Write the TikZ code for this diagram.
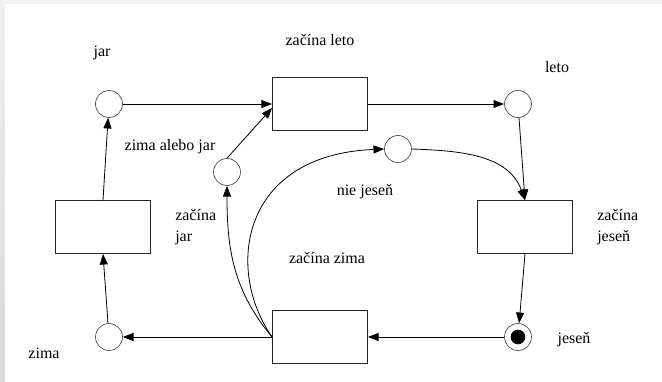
\documentclass[tikz,border=0pt]{standalone}
\usepackage{fontspec}
\setmainfont{Liberation Serif}
\newfontfamily\pismo{Liberation Serif}
\usetikzlibrary{arrows.meta}
\tikzset{
  stav/.style={circle,draw=black!70,line width=0.5pt,minimum size=20.25pt,inner sep=0pt},
  prechod/.style={rectangle,draw=black!85,line width=0.6pt,minimum width=71.25pt,minimum height=39.75pt,inner sep=0pt},
  tok/.style={line width=0.6pt,-{Triangle[length=8pt,width=6pt]}},
  popis/.style={font=\pismo\fontsize{12pt}{15.75pt}\selectfont,inner sep=0pt,align=left}
}
\begin{document}
\begin{tikzpicture}[x=0.75pt,y=-0.75pt]
    % pozadie
    \useasboundingbox (0,0) rectangle (662,382);
    \fill[gray!12] (0,0) rectangle (662,382);
    \shade[top color=gray!12,bottom color=gray!30] (0,4) rectangle (5,382);
    \fill[white] (5,4) rectangle (662,382);
    % miesta a prechody
    \node[stav] (pjar) at (109,104) {};
    \node[prechod] (tleto) at (320,104) {};
    \node[stav] (pleto) at (518,104) {};
    \node[stav] (pzimajar) at (227,172) {};
    \node[stav] (pniejesen) at (398,149) {};
    \node[prechod] (tjesen) at (525,227) {};
    \node[stav] (pjesen) at (518,337) {};
    \node[prechod] (tzima) at (320,337) {};
    \node[stav] (pzima) at (109,337) {};
    \node[prechod] (tjar) at (103,227) {};
    \fill (pjesen) circle (5.5pt);
    % popisy
    \node[popis] (ljar) at (102,53) {jar};
    \node[popis] (lleto) at (320,40) {začína leto};
    \node[popis] (lpleto) at (557,67) {leto};
    \node[popis] (lzimajar) at (170,147) {zima alebo jar};
    \node[popis] (lniejesen) at (365,192) {nie jeseň};
    \node[popis,anchor=west] (ljesen) at (597,227) {začína\\jeseň};
    \node[popis,anchor=west] (lzjar) at (175,227) {začína\\jar};
    \node[popis] (lzima) at (327,258) {začína zima};
    \node[popis] (lpjesen) at (574,340) {jeseň};
    \node[popis] (lpzima) at (44,353) {zima};
    % hrany
    \draw[tok] (pjar) -- (tleto);
    \draw[tok] (pzimajar.north) -- ([yshift=-3pt]tleto.west);
    \draw[tok] (tleto) -- (pleto);
    \draw[tok] (pleto) -- (tjesen.north);
    \draw[tok] (pniejesen.east) to[out=-2,in=110] (tjesen.north);
    \draw[tok] (tjesen.south) -- (pjesen);
    \draw[tok] (pjesen) -- (tzima);
    \draw[tok] (tzima) -- (pzima);
    \draw[tok] (pzima) -- (tjar.south);
    \draw[tok] (tjar.north) -- (pjar);
    \draw[tok] (tzima.west) to[out=130,in=-90] (pzimajar.south);
    \draw[tok] (tzima.west) .. controls (225,270) and (240,155) .. (pniejesen.west);
\end{tikzpicture}
\end{document}
